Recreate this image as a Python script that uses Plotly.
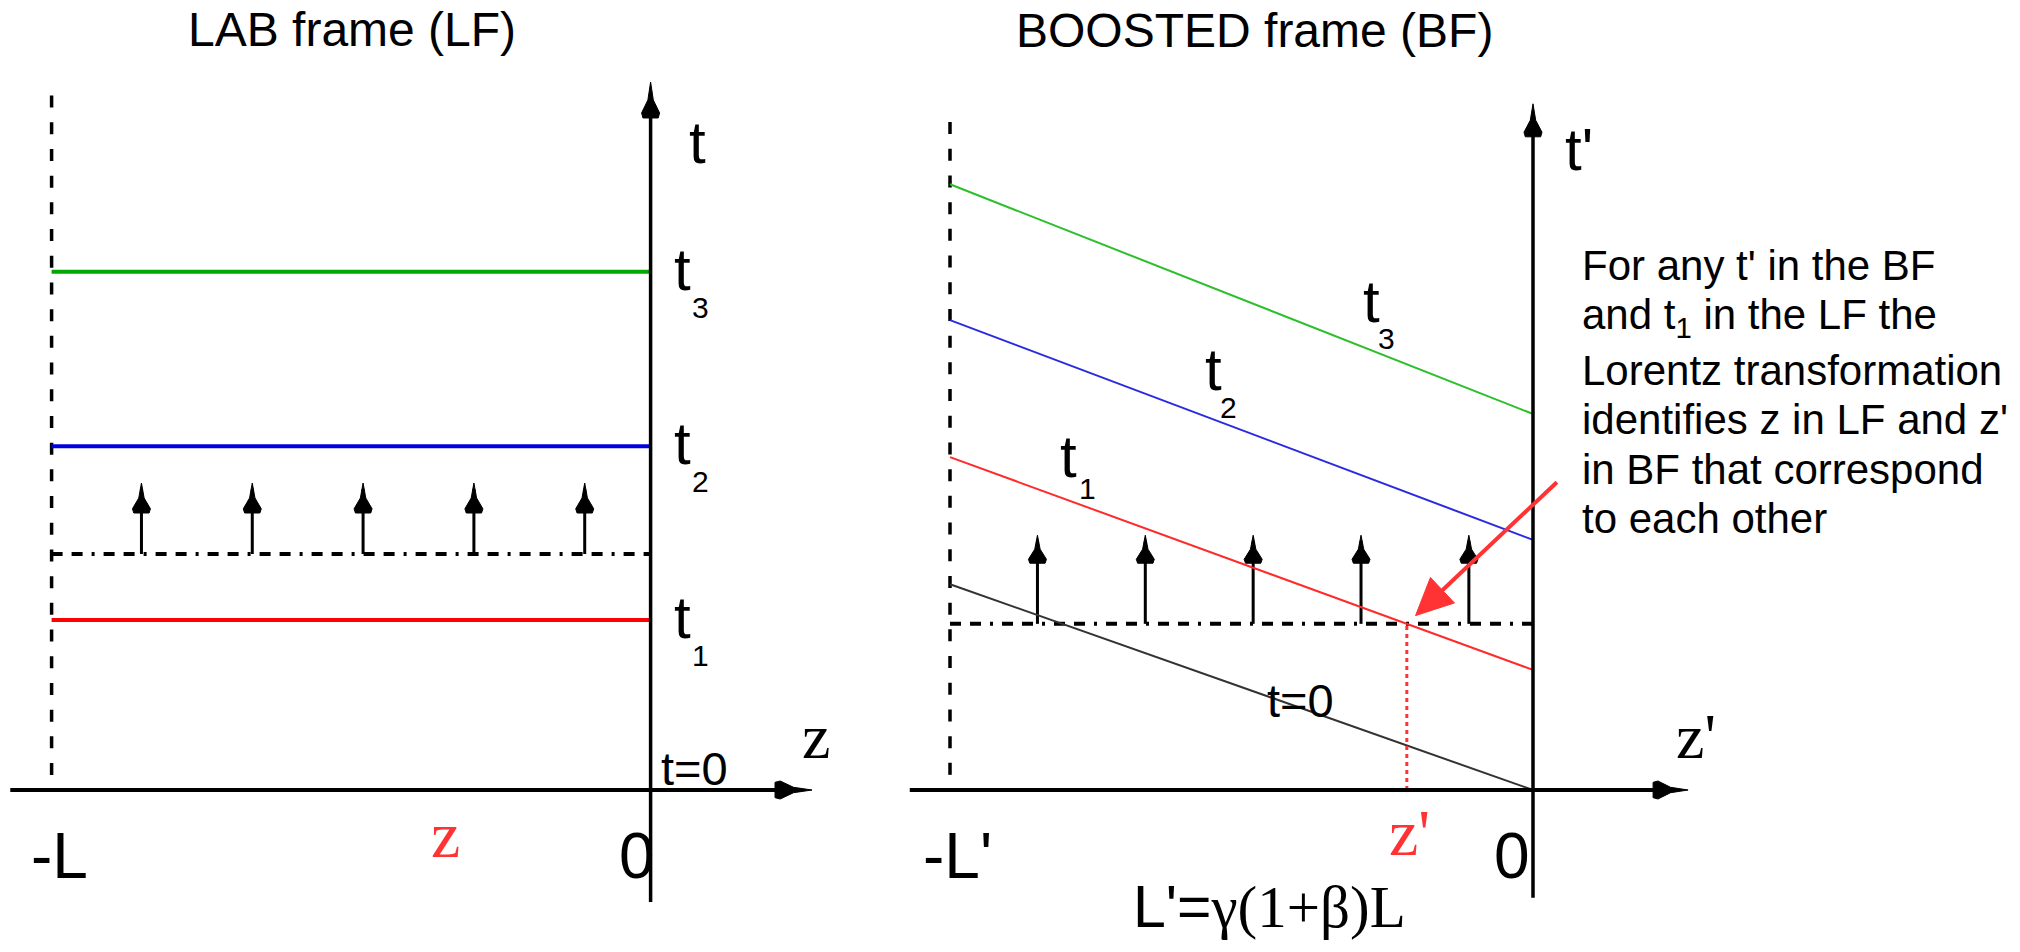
import math
import plotly.graph_objects as go

W, H = 2020, 952
SANS = "Liberation Sans, Arial, sans-serif"
SERIF = "Liberation Serif, Times New Roman, serif"

# ---------------- data (diagram units: L = 1 in LF, L' = 1 in BF) ----------------
# LAB frame
t_levels_lf = [0.284, 0.574, 0.865]          # t1, t2, t3 (horizontal lines)
level_colors_lf = ["#ff0000", "#0000e0", "#00a800"]
dashdot_t_lf = 0.394
arrow_z = [-0.85, -0.665, -0.48, -0.295, -0.11]
arrow_tip_lf = 0.5125
axis_z_lf = [-1.069, 0.2695]
axis_t_lf = [-0.187, 1.182]
wall_t_lf = [0.025, 1.172]

# BOOSTED frame: t = const lines, t' at z'=-L' and at z'=0
tp_left = [0.571, 0.806, 1.039]              # t1, t2, t3
tp_right = [0.206, 0.429, 0.645]
level_colors_bf = ["#ff2a2a", "#2a2ae0", "#2cbf2c"]
t0_left, t0_right = 0.353, 0.0
dashdot_tp = 0.285
arrow_tip_bf = 0.437
axis_z_bf = [-1.069, 0.266]
axis_t_bf = [-0.185, 1.177]
wall_t_bf = [0.026, 1.163]
pointer_tail = (0.041, 0.528)

# ---------------- layout mapping (pixels per unit, origins) ----------------
OL = (650.6, 790.0); SL = 599.0
OB = (1533.0, 790.0); SB = 583.0

fig = go.Figure()


def line(xs, ys, color, width, dash="solid", ax=1):
    fig.add_trace(go.Scatter(
        x=xs, y=ys, mode="lines", line=dict(color=color, width=width, dash=dash),
        xaxis="x" if ax == 1 else "x2", yaxis="y" if ax == 1 else "y2",
        hoverinfo="skip", showlegend=False))


DART = [(0, 0), (0.3, 0.5), (1.0, 0.86), (0.85, 1.0), (-0.85, 1.0), (-1.0, 0.86), (-0.3, 0.5), (0, 0)]
TRI = [(0, 0), (1.0, 1.0), (-1.0, 1.0), (0, 0)]


def head(tx, ty, ux, uy, length_px, half_px, scale, ax=1, color="black", prof=DART):
    """Arrow head with tip (tx, ty) pointing along unit vector (ux, uy)."""
    Lh = length_px / scale
    hh = half_px / scale
    px, py = -uy, ux            # perpendicular
    xs = [tx - d * Lh * ux + w * hh * px for w, d in prof]
    ys = [ty - d * Lh * uy + w * hh * py for w, d in prof]
    fig.add_trace(go.Scatter(
        x=xs, y=ys, mode="lines", fill="toself", fillcolor=color,
        line=dict(color=color, width=1),
        xaxis="x" if ax == 1 else "x2", yaxis="y" if ax == 1 else "y2",
        hoverinfo="skip", showlegend=False))


DASH = "12px,14.7px"
DASHDOT = "11px,9px,11px,9px,3px,9px"

# ---------------- LAB frame ----------------
line([-1, -1], wall_t_lf, "black", 3.5, DASH)
line([-1, 0], [dashdot_t_lf, dashdot_t_lf], "black", 4, DASHDOT)
for tz in arrow_z:
    line([tz, tz], [dashdot_t_lf, arrow_tip_lf - 0.01], "black", 3)
    head(tz, arrow_tip_lf, 0, 1, 30, 9, SL)
for tv, c in zip(t_levels_lf, level_colors_lf):
    line([-1, 0], [tv, tv], c, 4)
line([axis_z_lf[0], axis_z_lf[1] - 0.02], [0, 0], "black", 4)
head(axis_z_lf[1], 0, 1, 0, 37, 9, SL)
line([0, 0], [axis_t_lf[0], axis_t_lf[1] - 0.02], "black", 3.5)
head(0, axis_t_lf[1], 0, 1, 36, 9, SL)

# ---------------- BOOSTED frame ----------------
line([-1, -1], wall_t_bf, "black", 3.5, DASH, ax=2)
line([-1, 0], [dashdot_tp, dashdot_tp], "black", 4, DASHDOT, ax=2)
for tz in arrow_z:
    line([tz, tz], [dashdot_tp, arrow_tip_bf - 0.01], "black", 3, ax=2)
    head(tz, arrow_tip_bf, 0, 1, 28, 9, SB, ax=2)
line([-1, 0], [t0_left, t0_right], "#333333", 2, ax=2)
for a, b, c in zip(tp_left, tp_right, level_colors_bf):
    line([-1, 0], [a, b], c, 2, ax=2)
# intersection of the t1 line with the dash-dot line
z_int = (tp_right[0] - dashdot_tp) / (tp_left[0] - tp_right[0])
line([z_int, z_int], [0, dashdot_tp], "#ff3333", 3, "4px,4px", ax=2)
line([axis_z_bf[0], axis_z_bf[1] - 0.02], [0, 0], "black", 4, ax=2)
head(axis_z_bf[1], 0, 1, 0, 35, 9, SB, ax=2)
line([0, 0], [axis_t_bf[0], axis_t_bf[1] - 0.02], "black", 3.5, ax=2)
head(0, axis_t_bf[1], 0, 1, 33, 9, SB, ax=2)

# red pointer from the explanation towards the intersection point
dx, dy = z_int - pointer_tail[0], dashdot_tp - pointer_tail[1]
nrm = math.hypot(dx, dy)
ux, uy = dx / nrm, dy / nrm
standoff = 12 / SB
tip = (z_int - ux * standoff, dashdot_tp - uy * standoff)
line([pointer_tail[0], tip[0] - ux * 30 / SB], [pointer_tail[1], tip[1] - uy * 30 / SB], "#ff3333", 4, ax=2)
head(tip[0], tip[1], ux, uy, 37, 17.5, SB, ax=2, color="#ff3333", prof=TRI)

annotations = []


def label(text, x_px, base_px, size, family=SANS, color="black", anchor="left"):
    asc = 0.905 if family == SANS else 0.891
    top = base_px - asc * size - 2
    annotations.append(dict(
        text=text, x=x_px / W, y=1 - top / H, xref="paper", yref="paper",
        xanchor=anchor, yanchor="top", showarrow=False, align="left",
        font=dict(family=family, size=size, color=color)))


# titles
label("LAB frame (LF)", 352, 46, 48, anchor="center")
label("BOOSTED frame (BF)", 1254, 47, 48, anchor="center")

# LAB labels
label("t", 687, 163, 60)
for name_sub, base in zip(["1", "2", "3"], [638, 464, 290]):
    label("t", 672, base, 60)
    label(name_sub, 690, base + 28, 30)
label("z", 800, 758, 64, family=SERIF)
label("t=0", 659, 785, 47)
label("-L", 29, 878, 64)
label("z", 445, 857, 66, family=SERIF, color="#ff3333", anchor="center")
label("0", 657, 878, 64, anchor="right")

# BOOSTED labels
label("t'", 1563, 170, 60)
for name_sub, tx, base, sx, sbase in [("1", 1058, 477, 1077, 499),
                                      ("2", 1203, 390, 1218, 418),
                                      ("3", 1361, 322, 1376, 349)]:
    label("t", tx, base, 60)
    label(name_sub, sx, sbase, 30)
label("t=0", 1265, 717, 47)
label("z'", 1674, 758, 64, family=SERIF)
label("-L'", 921, 878, 64)
label("z'", 1387, 855, 66, family=SERIF, color="#ff3333")
label("0", 1532, 878, 64, anchor="right")
label("L'=<span style=\"font-family:Liberation Serif, Times New Roman, serif\">γ(1+β)L</span>",
      1131, 927, 59)

# explanation text
text_lines = ["For any t' in the BF",
              "and t<sub>1</sub> in the LF the",
              "Lorentz transformation",
              "identifies z in LF and z'",
              "in BF that correspond",
              "to each other"]
for txt, base in zip(text_lines, [280, 329, 385, 434, 484, 533]):
    label(txt, 1580, base, 42)

fig.update_layout(
    width=W, height=H, margin=dict(l=0, r=0, t=0, b=0),
    paper_bgcolor="white", plot_bgcolor="white", showlegend=False,
    annotations=annotations,
    xaxis=dict(range=[(0 - OL[0]) / SL, (W - OL[0]) / SL], domain=[0, 1], visible=False, fixedrange=True),
    yaxis=dict(range=[(OL[1] - H) / SL, OL[1] / SL], domain=[0, 1], visible=False, fixedrange=True),
    xaxis2=dict(range=[(0 - OB[0]) / SB, (W - OB[0]) / SB], domain=[0, 1], visible=False,
                overlaying="x", anchor="y2", fixedrange=True),
    yaxis2=dict(range=[(OB[1] - H) / SB, OB[1] / SB], domain=[0, 1], visible=False,
                overlaying="y", anchor="x2", fixedrange=True),
)
fig.write_html("out.html")
